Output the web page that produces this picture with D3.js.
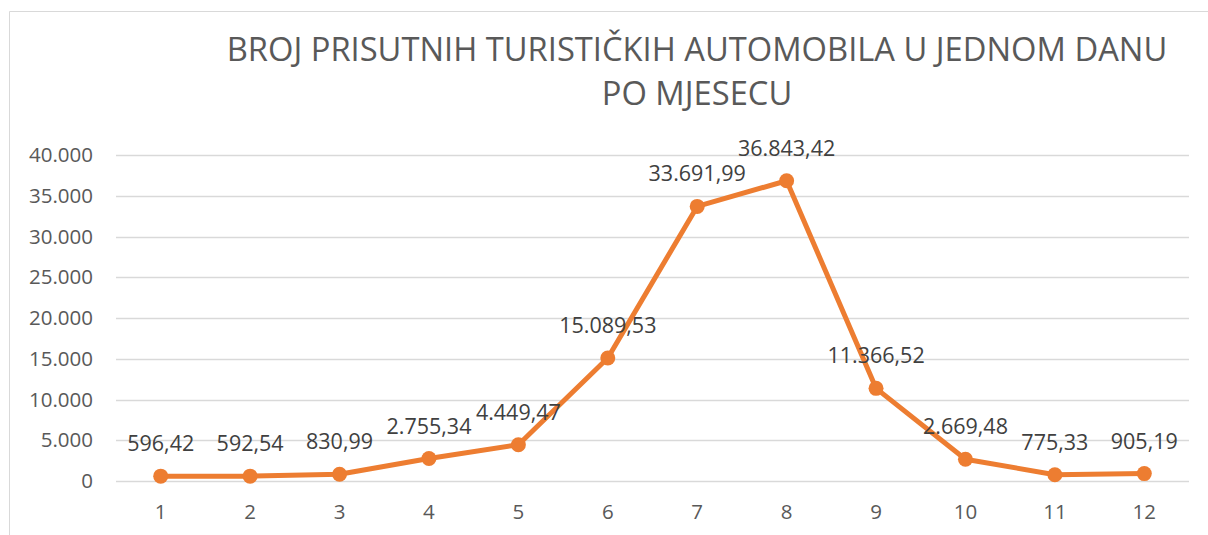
<!DOCTYPE html>
<html>
<head>
<meta charset="utf-8">
<script src="https://d3js.org/d3.v7.min.js"></script>
<style>
  body { margin: 0; background: #fff; font-family: "Open Sans", "Noto Sans", sans-serif; }
</style>
</head>
<body>
<div id="chart"></div>
<script>
// data
var months = ["1", "2", "3", "4", "5", "6", "7", "8", "9", "10", "11", "12"];
var cars = [596.42, 592.54, 830.99, 2755.34, 4449.47, 15089.53, 33691.99, 36843.42, 11366.52, 2669.48, 775.33, 905.19];
var yTicks = [0, 5000, 10000, 15000, 20000, 25000, 30000, 35000, 40000];
var titleLines = ["BROJ PRISUTNIH TURISTIČKIH AUTOMOBILA U JEDNOM DANU", "PO MJESECU"];

var W = 1208, H = 535;
var margin = {top: 155, right: 19, bottom: 54, left: 116};

var svg = d3.select("#chart").append("svg")
  .attr("width", W)
  .attr("height", H);

// chart area border
svg.append("path")
  .attr("d", "M9.5," + H + " V11.5 H" + W)
  .attr("fill", "none")
  .attr("stroke", "#d9d9d9")
  .attr("stroke-width", 1);

// title
svg.append("g").selectAll("text")
  .data(titleLines)
  .enter().append("text")
  .attr("x", 697)
  .attr("y", function(d, i) { return 61 + i * 44; })
  .attr("text-anchor", "middle")
  .attr("font-size", "32.7px")
  .attr("fill", "#595959")
  .text(function(d) { return d; });

var x = d3.scaleBand()
  .domain(months)
  .range([margin.left, W - margin.right]);

var y = d3.scaleLinear()
  .domain([0, 40000])
  .range([H - margin.bottom, margin.top]);

var fmt = d3.formatLocale({decimal: ",", thousands: ".", grouping: [3], currency: ["", ""]});
var tickFmt = fmt.format(",.0f");
var labelFmt = fmt.format(",.2f");

// gridlines
svg.append("g").selectAll("line")
  .data(yTicks)
  .enter().append("line")
  .attr("x1", margin.left)
  .attr("x2", W - margin.right)
  .attr("y1", function(d) { return Math.round(y(d)) + 0.5; })
  .attr("y2", function(d) { return Math.round(y(d)) + 0.5; })
  .attr("stroke", "#d9d9d9")
  .attr("stroke-width", 1.3);

// y axis labels
var yAxis = svg.append("g")
  .attr("transform", "translate(" + (margin.left - 23) + ",0)")
  .call(d3.axisLeft(y).tickValues(yTicks).tickFormat(tickFmt).tickSize(0).tickPadding(0));
yAxis.select(".domain").remove();
yAxis.selectAll("text")
  .attr("font-family", "'Open Sans', sans-serif")
  .attr("font-size", "20.5px")
  .attr("fill", "#595959");

// x axis labels
var xAxis = svg.append("g")
  .attr("transform", "translate(0," + (H - margin.bottom + 23) + ")")
  .call(d3.axisBottom(x).tickSize(0).tickPadding(0));
xAxis.select(".domain").remove();
xAxis.selectAll("text")
  .attr("font-family", "'Open Sans', sans-serif")
  .attr("font-size", "20.5px")
  .attr("fill", "#595959");

var cx = function(d, i) { return x(months[i]) + x.bandwidth() / 2; };

// line
var line = d3.line()
  .x(function(d, i) { return cx(d, i); })
  .y(function(d) { return y(d); });

svg.append("path")
  .datum(cars)
  .attr("d", line)
  .attr("fill", "none")
  .attr("stroke", "#ed7d31")
  .attr("stroke-width", 5)
  .attr("stroke-linejoin", "round");

// markers
svg.append("g").selectAll("circle")
  .data(cars)
  .enter().append("circle")
  .attr("cx", cx)
  .attr("cy", function(d) { return y(d); })
  .attr("r", 7.5)
  .attr("fill", "#ed7d31");

// data labels
svg.append("g").selectAll("text")
  .data(cars)
  .enter().append("text")
  .attr("x", cx)
  .attr("y", function(d) { return y(d) - 25; })
  .attr("text-anchor", "middle")
  .attr("font-size", "21.5px")
  .attr("fill", "#404040")
  .text(function(d) { return labelFmt(d); });
</script>
</body>
</html>
